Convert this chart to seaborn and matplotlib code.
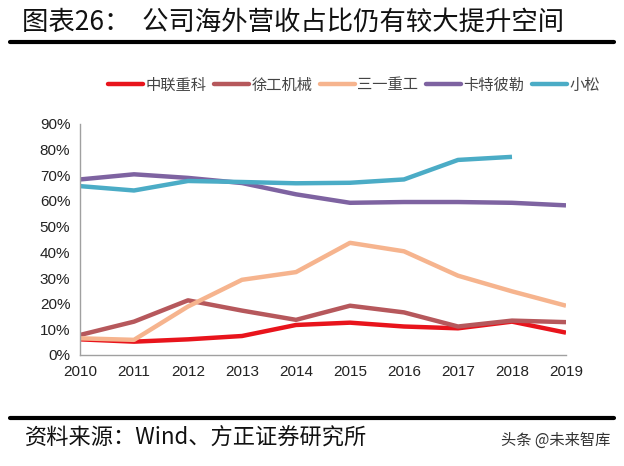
import matplotlib
matplotlib.use("Agg")
import matplotlib.pyplot as plt
import seaborn as sns
import pandas as pd
import numpy as np
from matplotlib.ticker import PercentFormatter
from matplotlib.lines import Line2D

years = [2010, 2011, 2012, 2013, 2014, 2015, 2016, 2017, 2018, 2019]
zoomlion = [6.1, 5.2, 6.1, 7.4, 11.7, 12.6, 11.1, 10.4, 13.0, 8.7]
xcmg = [7.8, 13.0, 21.3, 17.3, 13.7, 19.2, 16.6, 11.1, 13.4, 12.8]
sany = [6.5, 5.9, 18.9, 29.3, 32.3, 43.7, 40.4, 30.9, 24.8, 19.2]
caterpillar = [68.4, 70.4, 69.0, 67.0, 62.6, 59.3, 59.6, 59.6, 59.3, 58.3]
komatsu = [65.8, 64.1, 67.8, 67.4, 66.9, 67.1, 68.4, 76.0, 77.2, None]

series_names = ["中联重科", "徐工机械", "三一重工", "卡特彼勒", "小松"]
series_values = [zoomlion, xcmg, sany, caterpillar, komatsu]
colors = ["#E8141C", "#B6585C", "#F6B48E", "#7E63A1", "#4BACC6"]

rows = []
for name, vals in zip(series_names, series_values):
    for y, v in zip(years, vals):
        if v is not None:
            rows.append({"year": y, "value": v, "company": name})
df = pd.DataFrame(rows)

sns.set_theme(style="white")
plt.rcParams["font.family"] = ["Noto Sans CJK SC", "DejaVu Sans"]

fig = plt.figure(figsize=(6.24, 4.66), dpi=100)
ax = fig.add_axes([80/624, 1-355/466, (566-80)/624, (355-124)/466])

sns.lineplot(data=df, x="year", y="value", hue="company", hue_order=series_names,
             palette=colors, linewidth=3.2, ax=ax, legend=False,
             solid_joinstyle="round", solid_capstyle="butt")

ax.set_xlim(2010, 2019)
ax.set_ylim(0, 90)
ax.set_xticks(years)
ax.set_yticks(range(0, 91, 10))
ax.yaxis.set_major_formatter(PercentFormatter(decimals=0))
ax.set_xlabel("")
ax.set_ylabel("")
for s in ["top", "right"]:
    ax.spines[s].set_visible(False)
for s in ["left", "bottom"]:
    ax.spines[s].set_color("#A0A0A0")
    ax.spines[s].set_linewidth(1.0)
ax.tick_params(axis="both", which="both", direction="out", length=4, width=1,
               color="#A0A0A0", labelsize=11, pad=3)
for lab in ax.get_xticklabels() + ax.get_yticklabels():
    lab.set_family(["Liberation Sans", "DejaVu Sans"])
    lab.set_color("#222222")

# legend
handles = [Line2D([0], [0], color=c, lw=3.2) for c in colors]
leg = fig.legend(handles, series_names, loc="center", bbox_to_anchor=(354/624, 1-85/466),
                 ncol=5, frameon=False, fontsize=11, handlelength=2.3,
                 handletextpad=0.15, columnspacing=0.5)
for t in leg.get_texts():
    t.set_color("#444444")

# title and rules
fig.text(22/624, 1-22/466, "图表26：  公司海外营收占比仍有较大提升空间", fontsize=19,
         ha="left", va="center", color="#111111")
fig.add_artist(Line2D([10/624, 614/624], [1-42/466, 1-42/466], color="black", lw=3,
                      transform=fig.transFigure))
fig.add_artist(Line2D([10/624, 614/624], [1-418/466, 1-418/466], color="black", lw=3,
                      transform=fig.transFigure))
fig.text(25/624, 1-438/466, "资料来源：Wind、方正证券研究所", fontsize=16,
         ha="left", va="center", color="#111111", style="italic")
fig.text(610/624, 1-440/466, "头条 @未来智库", fontsize=11,
         ha="right", va="center", color="#333333")

fig.savefig("out.png", dpi=100)
